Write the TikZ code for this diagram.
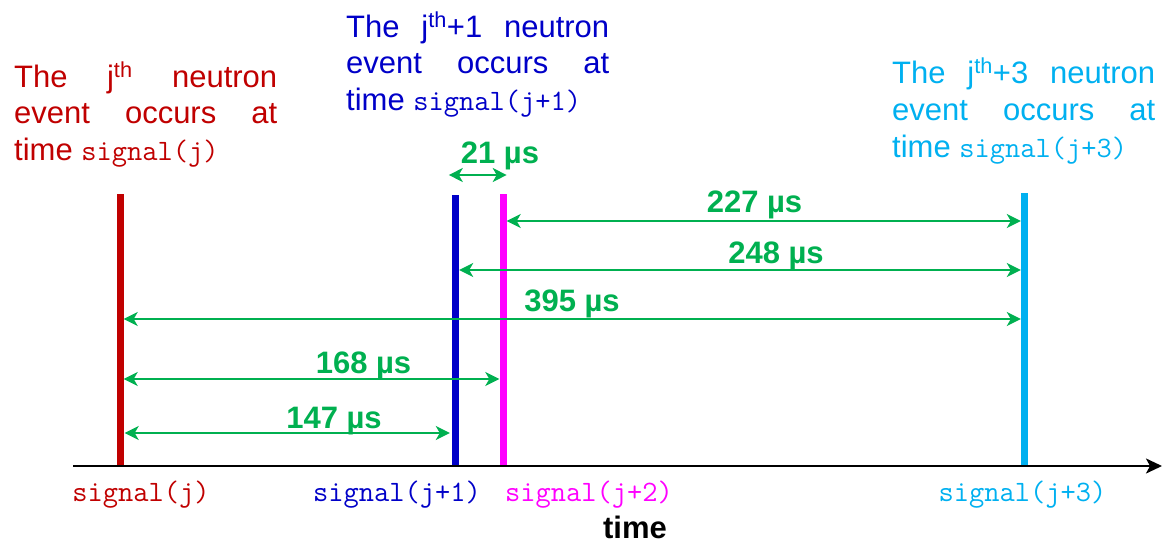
\documentclass[tikz,border=0pt]{standalone}
\usepackage{fontspec}
\setmainfont{Liberation Sans}
\usetikzlibrary{arrows.meta}
\definecolor{cred}{HTML}{C00000}
\definecolor{cblue}{HTML}{0000C8}
\definecolor{cmag}{HTML}{FF00FF}
\definecolor{ccyan}{HTML}{00B0F0}
\definecolor{cgreen}{HTML}{00B050}
\newcommand{\bigtxt}{\fontsize{31}{37}\selectfont}
\newcommand{\monotxt}{\fontsize{29.6}{33}\selectfont\ttfamily}
\newcommand{\lw}[1]{\hbox to 263pt{#1}}
\tikzset{
  txtline/.style={anchor=base west, inner sep=0pt, font=\bigtxt, text=#1},
  evline/.style={fill=#1, draw=none, inner sep=0pt, minimum width=7pt, anchor=south},
  dim/.style={draw=cgreen, line width=2pt, {Stealth[length=14pt,width=14pt,inset=4pt]}-{Stealth[length=14pt,width=14pt,inset=4pt]}},
  dimlbl/.style={anchor=base, inner sep=0pt, font=\bigtxt\bfseries, text=cgreen},
  siglbl/.style={anchor=base, inner sep=0pt, font=\monotxt, text=#1},
  axisline/.style={draw=black, line width=2pt, -{Stealth[length=16pt,width=15pt,inset=4pt]}}
}
\begin{document}
\begin{tikzpicture}[x=1pt,y=-1pt]
\useasboundingbox (0,0) rectangle (1162,544);
% event lines
\node[evline=cred,  minimum height=271pt] (R) at (120,465) {};
\node[evline=cblue, minimum height=270pt] (B) at (455.5,465) {};
\node[evline=cmag,  minimum height=271pt] (M) at (503,465) {};
\node[evline=ccyan, minimum height=272pt] (C) at (1024.5,465) {};
% axis
\coordinate (ax0) at (73,466);
\coordinate (ax1) at (1162,466);
\draw[axisline] (ax0) -- (ax1);
% arrow heights
\coordinate (y21) at (0,175);
\coordinate (y227) at (0,221);
\coordinate (y248) at (0,270);
\coordinate (y395) at (0,319);
\coordinate (y168) at (0,379);
\coordinate (y147) at (0,433);
\draw[dim] ([xshift=-3pt]B.west |- y21) -- (M.east |- y21);
\draw[dim] (M.east |- y227) -- (C.west |- y227);
\draw[dim] (B.east |- y248) -- (C.west |- y248);
\draw[dim] (R.east |- y395) -- (C.west |- y395);
\draw[dim] (R.east |- y168) -- (M.west |- y168);
\draw[dim] ([xshift=1pt]R.east |- y147) -- ([xshift=-2pt]B.west |- y147);
% dimension labels
\node[dimlbl] (l21)  at (500,163)   {21 µs};
\node[dimlbl] (l227) at (754.5,212) {227 µs};
\node[dimlbl] (l248) at (776,263)   {248 µs};
\node[dimlbl] (l395) at (572,311)   {395 µs};
\node[dimlbl] (l168) at (363.5,373) {168 µs};
\node[dimlbl] (l147) at (334,428)   {147 µs};
% signal labels
\node[siglbl=cred]  (s0) at (141,501.7)    {signal(j)};
\node[siglbl=cblue] (s1) at (397,501.7)    {signal(j+1)};
\node[siglbl=cmag]  (s2) at (589,501.7)    {signal(j+2)};
\node[siglbl=ccyan] (s3) at (1022.5,501.7) {signal(j+3)};
\node[anchor=base, inner sep=0pt, font=\bigtxt\bfseries] (tm) at (635,538) {time};
% red text block
\node[txtline=cred] (r1) at (14,87)    {\lw{The\hfil j\textsuperscript{th}\hfil neutron}};
\node[txtline=cred] (r2) at (14,123.5) {\lw{event\hfil occurs\hfil at}};
\node[txtline=cred] (r3) at (14,160)   {time {\monotxt signal(j)}};
% blue text block
\node[txtline=cblue] (b1) at (346,37)   {\lw{The\hfil j\textsuperscript{th}+1\hfil neutron}};
\node[txtline=cblue] (b2) at (346,73.5) {\lw{event\hfil occurs\hfil at}};
\node[txtline=cblue] (b3) at (346,110)  {time {\monotxt signal(j+1)}};
% cyan text block
\node[txtline=ccyan] (c1) at (892,83)  {\lw{The\hfil j\textsuperscript{th}+3\hfil neutron}};
\node[txtline=ccyan] (c2) at (892,120) {\lw{event\hfil occurs\hfil at}};
\node[txtline=ccyan] (c3) at (892,157) {time {\monotxt signal(j+3)}};
\end{tikzpicture}
\end{document}
